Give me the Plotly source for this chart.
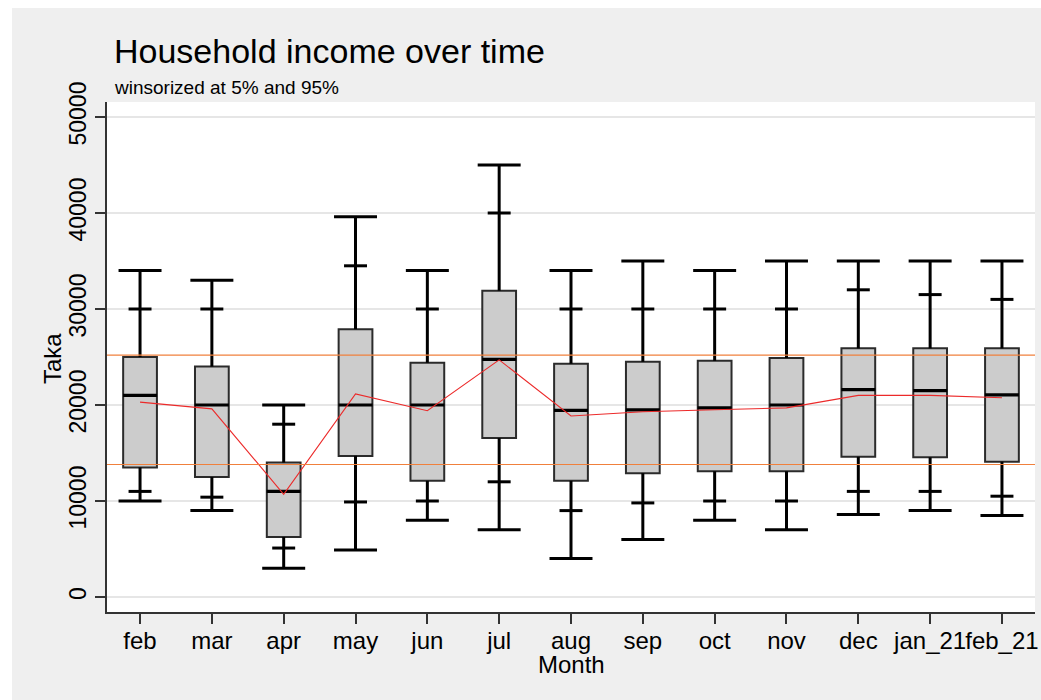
import plotly.graph_objects as go

# Monthly household income distribution (Taka), winsorized at 5% / 95%
months = ["feb", "mar", "apr", "may", "jun", "jul", "aug", "sep", "oct",
          "nov", "dec", "jan_21", "feb_21"]
upper_adj = [34000, 33000, 20000, 39600, 34000, 45000, 34000, 35000, 34000,
             35000, 35000, 35000, 35000]
p90 = [30000, 30000, 18000, 34500, 30000, 40000, 30000, 30000, 30000,
       30000, 32000, 31500, 31000]
q3 = [25000, 24000, 14000, 27900, 24400, 31900, 24300, 24500, 24600,
      24900, 25900, 25900, 25900]
median = [21000, 20000, 11000, 20000, 20000, 24750, 19450, 19500, 19700,
          20000, 21600, 21500, 21050]
q1 = [13500, 12500, 6250, 14700, 12100, 16550, 12100, 12900, 13100,
      13100, 14600, 14550, 14100]
p10 = [11000, 10400, 5100, 9900, 10000, 12000, 9000, 9800, 10000,
       10000, 11000, 11000, 10500]
lower_adj = [10000, 9000, 3000, 4900, 8000, 7000, 4000, 6000, 8000,
             7000, 8600, 9000, 8500]
mean_income = [20300, 19600, 10700, 21150, 19400, 24700, 18850, 19300,
               19500, 19700, 21000, 21000, 20750]
ref_lines = [25200, 13800]
y_ticks = [0, 10000, 20000, 30000, 40000, 50000]

FONT = "Liberation Sans, Arial, Helvetica, sans-serif"
BOX_W = 0.47

fig = go.Figure()

# interquartile boxes
fig.add_trace(go.Bar(
    x=months, y=[h - l for h, l in zip(q3, q1)], base=q1, width=BOX_W,
    marker=dict(color="#cccccc", line=dict(color="#2b2b2b", width=2)),
    hoverinfo="skip", showlegend=False,
))

# whiskers: box edge out to adjacent values
wx, wy = [], []
for m, a, b, c, d in zip(months, q3, upper_adj, lower_adj, q1):
    wx += [m, m, None, m, m, None]
    wy += [a, b, None, c, d, None]
fig.add_trace(go.Scatter(
    x=wx, y=wy, mode="lines", line=dict(color="black", width=3),
    hoverinfo="skip", showlegend=False,
))

# caps at the adjacent values and at the 10th / 90th percentiles
fig.add_trace(go.Scatter(
    x=months + months, y=upper_adj + lower_adj, mode="markers",
    marker=dict(symbol="line-ew", size=30.7,
                line=dict(color="black", width=3)),
    hoverinfo="skip", showlegend=False,
))
fig.add_trace(go.Scatter(
    x=months + months, y=p90 + p10, mode="markers",
    marker=dict(symbol="line-ew", size=16.4,
                line=dict(color="black", width=3)),
    hoverinfo="skip", showlegend=False,
))

# medians
fig.add_trace(go.Scatter(
    x=months, y=median, mode="markers",
    marker=dict(symbol="line-ew", size=24.3,
                line=dict(color="black", width=3.2)),
    hoverinfo="skip", showlegend=False,
))

# mean income by month
fig.add_trace(go.Scatter(
    x=months, y=mean_income, mode="lines",
    line=dict(color="#ec2a2a", width=1.1),
    hoverinfo="skip", showlegend=False,
))

shapes = [
    dict(type="rect", xref="paper", yref="paper", layer="below",
         x0=-0.1024, x1=1.02, y0=-0.2, y1=1.1843,
         fillcolor="#efefef", line=dict(width=0)),
    dict(type="rect", xref="paper", yref="paper", layer="below",
         x0=0, x1=1, y0=0, y1=1,
         fillcolor="white", line=dict(width=0)),
]
# horizontal reference lines across the full plot width
for ref in ref_lines:
    shapes.append(dict(type="line", xref="paper", yref="y", layer="above",
                       x0=0, x1=1, y0=ref, y1=ref,
                       line=dict(color="#f0803c", width=1.2)))

fig.update_layout(
    width=1041, height=700,
    margin=dict(l=107, r=6, t=102, b=88),
    paper_bgcolor="white", plot_bgcolor="white",
    font=dict(family=FONT, color="black", size=23),
    showlegend=False,
    shapes=shapes,
    annotations=[
        dict(text="Household income over time", xref="paper", yref="paper",
             x=0.0054, y=1.1, xanchor="left", yanchor="middle",
             showarrow=False, font=dict(size=34, family=FONT)),
        dict(text="winsorized at 5% and 95%", xref="paper", yref="paper",
             x=0.0054, y=1.0275, xanchor="left", yanchor="middle",
             showarrow=False, font=dict(size=19, family=FONT)),
        dict(text="Taka", xref="paper", yref="paper", textangle=-90,
             x=-0.0593, y=0.498, xanchor="center", yanchor="middle",
             showarrow=False, font=dict(size=24, family=FONT)),
        dict(text="Month", xref="paper", yref="paper",
             x=0.5, y=-0.102, xanchor="center", yanchor="middle",
             showarrow=False, font=dict(size=24, family=FONT)),
    ],
    xaxis=dict(
        type="category", categoryorder="array", categoryarray=months,
        range=[-0.46, len(months) - 1 + 0.46], automargin=False,
        showgrid=False, zeroline=False, tickangle=0,
        showline=True, linecolor="#333333", linewidth=1.5,
        ticks="outside", ticklen=10, tickcolor="#333333", tickwidth=1.5,
        tickfont=dict(size=24), ticklabelstandoff=-4,
    ),
    yaxis=dict(
        range=[-1563, 51563], tickvals=y_ticks,
        ticktext=[str(v) for v in y_ticks], automargin=False,
        tickangle=-90, showgrid=True, gridcolor="#e6e6e6", gridwidth=2,
        zeroline=False,
        showline=True, linecolor="#333333", linewidth=1.5,
        ticks="outside", ticklen=10, tickcolor="#333333", tickwidth=1.5,
        tickfont=dict(size=23), ticklabelstandoff=0,
    ),
)

fig.write_html("out.html")
